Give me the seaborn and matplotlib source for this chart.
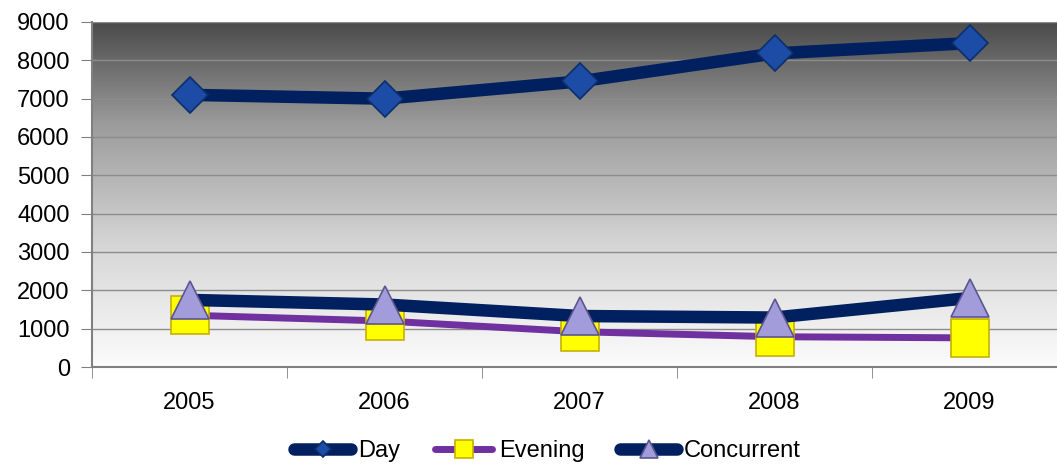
import numpy as np
import pandas as pd
import matplotlib
matplotlib.use("Agg")
import matplotlib.pyplot as plt
from matplotlib.colors import LinearSegmentedColormap
import seaborn as sns

# data
years = ["2005", "2006", "2007", "2008", "2009"]
day = [7100, 7000, 7450, 8180, 8450]
evening = [1350, 1200, 920, 790, 760]
concurrent = [1750, 1630, 1330, 1290, 1800]

sns.set_style("white")
plt.rcParams['font.family'] = ['Liberation Sans', 'DejaVu Sans']
plt.rcParams['text.color'] = 'black'
plt.rcParams['xtick.color'] = 'black'
plt.rcParams['ytick.color'] = 'black'

fig = plt.figure(figsize=(10.57, 4.67), dpi=100)
ax = fig.add_axes([92 / 1057, 100 / 467, 975 / 1057, 345 / 467])

# gradient plot area (dark top -> white bottom)
cmap = LinearSegmentedColormap.from_list(
    "bg", [(0, "#fcfcfc"), (0.35, "#d6d6d6"), (0.7, "#9c9c9c"), (1, "#4a4a4a")])
grad = np.linspace(0, 1, 256).reshape(-1, 1)
ax.imshow(grad, cmap=cmap, origin="lower", aspect="auto",
          extent=[0, 1, 0, 1], transform=ax.transAxes, zorder=-1)

df = pd.DataFrame({"year": years, "Day": day, "Evening": evening,
                   "Concurrent": concurrent})

sns.lineplot(data=df, x="year", y="Day", ax=ax, color="#002060", lw=9,
             marker="D", markersize=18, markerfacecolor="#1c4ca6",
             markeredgecolor="#0c2f6c", markeredgewidth=1.2,
             solid_capstyle="round", label="Day", sort=False)
sns.lineplot(data=df, x="year", y="Evening", ax=ax, color="#7030a0", lw=5,
             marker="s", markersize=28, markerfacecolor="#ffff00",
             markeredgecolor="#c8b000", markeredgewidth=1.2,
             solid_capstyle="round", label="Evening", sort=False)
sns.lineplot(data=df, x="year", y="Concurrent", ax=ax, color="#002060", lw=9,
             marker="^", markersize=28, markerfacecolor="#a29cda",
             markeredgecolor="#5b5690", markeredgewidth=1.2,
             solid_capstyle="round", label="Concurrent", sort=False)

ax.set_xlim(-0.5, 4.5)
ax.set_ylim(0, 9000)
ax.set_yticks(range(0, 9001, 1000))
ax.set_xlabel("")
ax.set_ylabel("")

ax.set_axisbelow(True)
ax.grid(axis="y", color="#8c8c8c", lw=1)
ax.grid(axis="x", visible=False)

for s in ["top", "right"]:
    ax.spines[s].set_visible(False)
for s in ["left", "bottom"]:
    ax.spines[s].set_color("#808080")
    ax.spines[s].set_linewidth(1.5)

ax.tick_params(axis="y", direction="out", length=8, color="#808080",
               labelsize=17, labelcolor="black", pad=8, left=True)
ax.tick_params(axis="x", which="major", length=0, labelsize=17,
               labelcolor="black", pad=18)
ax.set_xticks(np.arange(-0.5, 5, 1), minor=True)
ax.tick_params(axis="x", which="minor", direction="out", length=8,
               color="#808080", bottom=True)

leg = ax.legend(loc="center", bbox_to_anchor=(0.518, 0.034),
                bbox_transform=fig.transFigure, ncol=3, frameon=False,
                fontsize=17, handlelength=2.4, handletextpad=0.3,
                columnspacing=1.5, markerscale=0.45)
for t in leg.get_texts():
    t.set_color("black")

fig.savefig("out.png", dpi=100)
